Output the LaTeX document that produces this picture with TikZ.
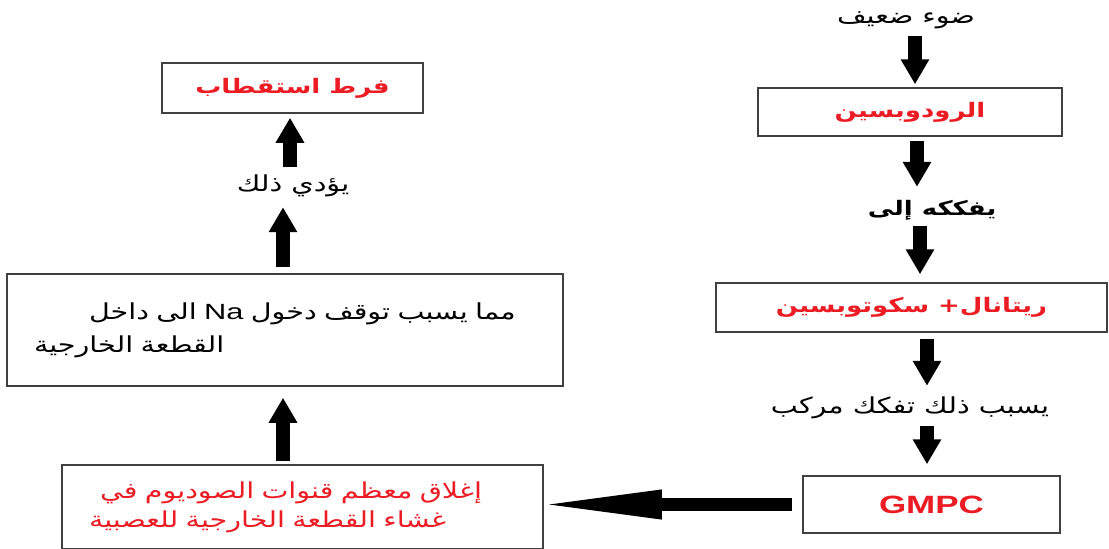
\documentclass[tikz,border=0pt]{standalone}
\usepackage{fontspec}
\usetikzlibrary{arrows.meta}
\TeXXeTstate=1
\newfontfamily\arabicfont[Script=Arabic,FakeStretch=1.3]{DejaVu Sans}
\newfontfamily\latinfont[FakeStretch=1.4]{Liberation Sans}
\definecolor{cred}{RGB}{236,28,36}
\definecolor{cframe}{RGB}{64,64,64}

\begin{document}
\begin{tikzpicture}[x=1pt,y=-1pt,font=\arabicfont\fontsize{22}{33}\selectfont,
   box/.style={draw=cframe, line width=1.5pt, inner sep=0pt, align=center},
   tag/.style={inner sep=0pt, minimum height=20pt},
   hot/.style={text=cred, font=\arabicfont\bfseries\fontsize{20}{30}\selectfont},
   fat/.style={line width=14pt, -{Triangle[length=25pt,width=27pt]}},
   longfat/.style={line width=13pt, -{Triangle[length=128pt,width=26pt]}}]
  \useasboundingbox (0,0) rectangle (1109,549);
  \node[tag] (light) at (906,20) {\beginR ضوء ضعيف\endR};
  \node[box, hot, minimum width=304pt, minimum height=48pt] (rhod) at (910,112)
    {\beginR الرودوبسين\endR};
  \node[tag, font=\arabicfont\bfseries\fontsize{20}{30}\selectfont] (split) at (932,210)
    {\beginR يفككه إلى\endR};
  \node[box, hot, minimum width=391pt, minimum height=49pt] (retsc) at (911.5,307.5)
    {\beginR ريتانال+ سكوتوبسين\endR};
  \node[tag] (cause) at (910,408) {\beginR يسبب ذلك تفكك مركب\endR};
  \node[box, hot, font=\latinfont\bfseries\fontsize{25}{30}\selectfont,
    minimum width=257pt, minimum height=57pt] (gmpc) at (931.5,504.5) {GMPC};
  \node[box, hot, minimum width=261pt, minimum height=50pt] (polar) at (292.5,88)
    {\beginR فرط استقطاب\endR};
  \node[tag] (leads) at (293,186) {\beginR يؤدي ذلك\endR};
  \node[box, align=left, text width=502pt, inner xsep=27pt,
    minimum width=556pt, minimum height=112pt] (entry) at (285,330)
    {\hspace*{55pt}\beginR مما يسبب توقف دخول \beginL{\latinfont Na}\endL{} الى داخل\endR\\
     \beginR القطعة الخارجية\endR};
  \node[box, align=left, text=cred, text width=427pt, inner xsep=27pt,
    font=\arabicfont\fontsize{22}{29}\selectfont,
    minimum width=481pt, minimum height=84pt] (close) at (302.5,507)
    {\hspace*{11pt}\beginR إغلاق معظم قنوات الصوديوم في\endR\\
     \beginR غشاء القطعة الخارجية للعصبية\endR};
  \draw[fat, shorten <=6pt, shorten >=3pt] ([xshift=9pt]light.south) -- ([xshift=5pt]rhod.north);
  \draw[fat, shorten <=4pt, shorten >=13pt] ([xshift=7pt]rhod.south) -- ([xshift=-15pt]split.north);
  \draw[fat, shorten <=6pt, shorten >=8pt] ([xshift=-12pt]split.south) -- ([xshift=8.5pt]retsc.north);
  \draw[fat, shorten <=6pt, shorten >=11pt] ([xshift=15.5pt]retsc.south) -- ([xshift=17pt]cause.north);
  \draw[fat, shorten <=7pt, shorten >=11pt] ([xshift=17pt]cause.south) -- ([xshift=-4.5pt]gmpc.north);
  \draw[longfat, shorten <=10pt, shorten >=-10pt] (gmpc.west) -- (gmpc.west -| close.east);
  \draw[fat, shorten <=3pt, shorten >=11pt] ([xshift=-19.5pt]close.north) -- ([xshift=-2pt]entry.south);
  \draw[fat, shorten <=6pt, shorten >=10pt] ([xshift=-2pt]entry.north) -- ([xshift=-10pt]leads.south);
  \draw[fat, shorten <=8pt, shorten >=4pt] ([xshift=-3pt]leads.north) -- ([xshift=-2.5pt]polar.south);
\end{tikzpicture}
\end{document}
